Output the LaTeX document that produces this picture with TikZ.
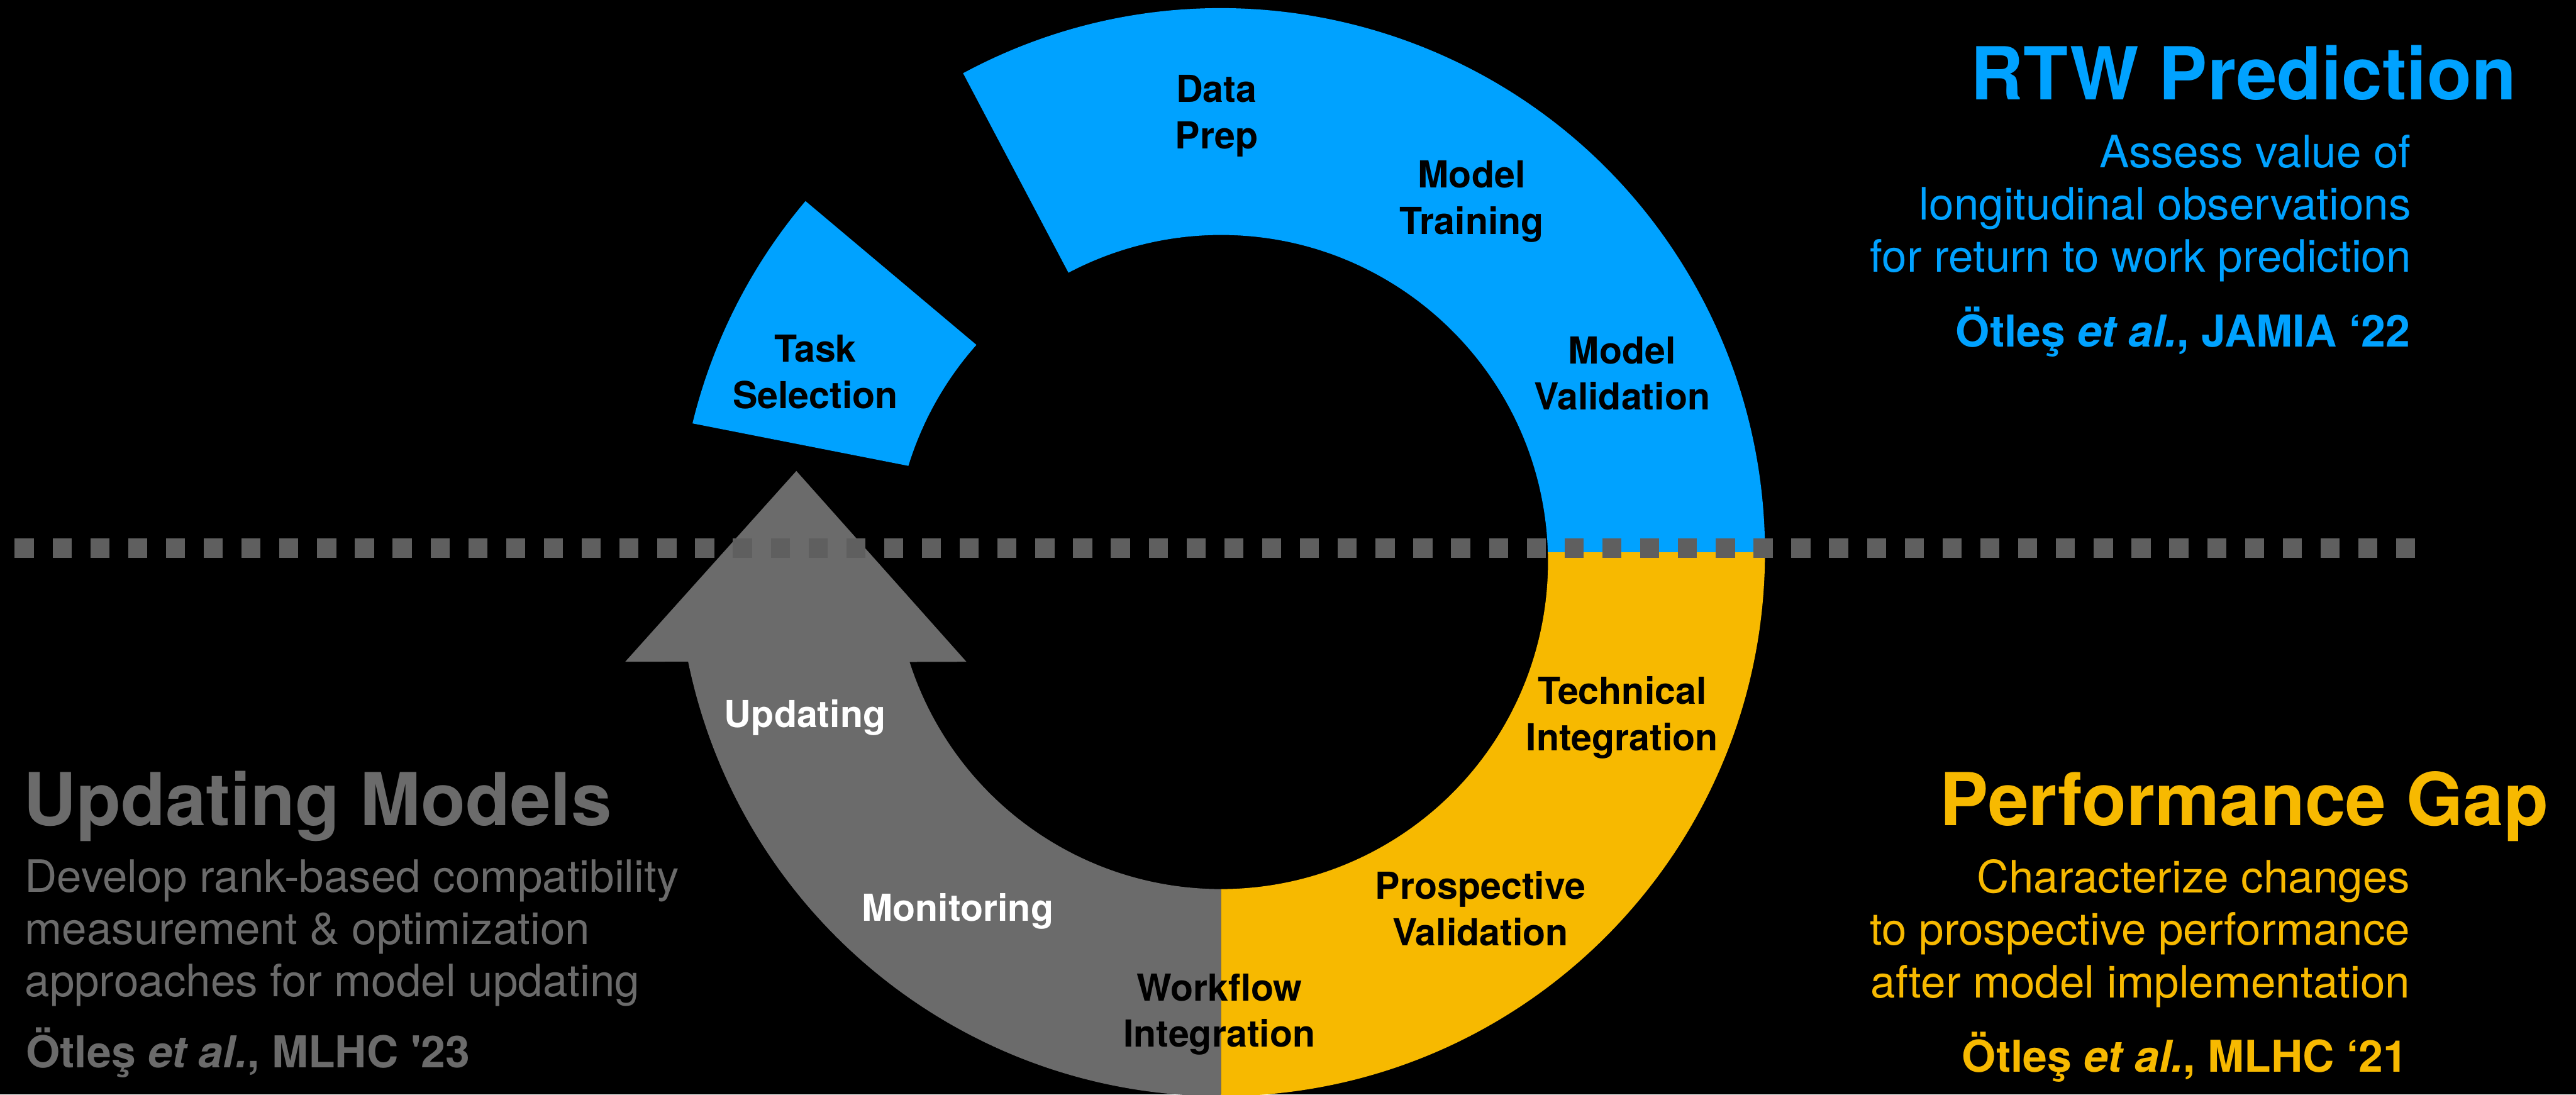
\documentclass[tikz,border=0pt]{standalone}
\usepackage{fontspec}
\setmainfont{TeX Gyre Heros}
\definecolor{rtwblue}{HTML}{00A2FF}
\definecolor{gapyellow}{HTML}{F7B900}
\definecolor{updgrey}{HTML}{6B6B6B}
\definecolor{dashgrey}{HTML}{5F5F5F}

\begin{document}
\begin{tikzpicture}[
  lbl/.style={align=center, font=\fontsize{19.4}{24.2}\selectfont\bfseries},
  head/.style={font=\fontsize{38.1}{45}\selectfont\bfseries},
  blurb/.style={font=\fontsize{23.3}{27.3}\selectfont},
  cite/.style={font=\fontsize{22.9}{27.3}\selectfont\bfseries}]
\tikzstyle{every node}+=[inner sep=0pt]
\clip (0,0) rectangle (47.26,-20.08);
\fill [black] (0,0) rectangle (47.26,-20.08);
\coordinate (oc) at (22.40,-10.13);
\coordinate (ic) at (22.40,-10.31);
\fill [rtwblue] ([shift={(118.3:9.98)}]oc) arc [start angle=118.3, end angle=0, radius=9.98] -- ([shift={(1.7:6)}]ic) arc [start angle=1.7, end angle=117.8, radius=6] -- cycle;
\fill [rtwblue] ([shift={(166.3:9.98)}]oc) arc [start angle=166.3, end angle=139.8, radius=9.98] -- ([shift={(138.4:6)}]ic) arc [start angle=138.4, end angle=162.9, radius=6] -- cycle;
\fill [gapyellow] ([shift={(0:9.98)}]oc) arc [start angle=0, end angle=-90, radius=9.98] -- ([shift={(-90:6)}]ic) arc [start angle=-90, end angle=1.7, radius=6] -- cycle;
\fill [updgrey] ([shift={(-90:9.98)}]oc) arc [start angle=-90, end angle=-168.4, radius=9.98] -- (11.47,-12.14) -- (14.61,-8.64) -- (17.73,-12.14) -- ([shift={(-162.2:6)}]ic) arc [start angle=-162.2, end angle=-90, radius=6] -- cycle;
\foreach \i in {0,...,63}
  \fill [dashgrey] ({0.27+0.6935*\i},-9.88) rectangle +(0.35,-0.35);
\node [lbl] (dataprep) at (22.32,-2.13) {Data\\Prep};
\node [lbl] (training) at (27.00,-3.70) {Model\\Training};
\node [lbl] (validation) at (29.76,-6.85) {Model\\Validation};
\node [lbl] (task) at (14.96,-6.82) {Task\\Selection};
\node [lbl] (techint) at (29.76,-13.16) {Technical\\Integration};
\node [lbl] (prospective) at (27.16,-16.67) {Prospective\\Validation};
\node [lbl] (workflow) at (22.37,-18.61) {Workflow\\Integration};
\node [lbl, text=white, anchor=base] (updating) at (14.77,-13.34) {Updating};
\node [lbl, text=white, anchor=base] (monitoring) at (17.57,-16.90) {Monitoring};
\node [head, text=rtwblue, anchor=base east] (rtw) at (46.17,-1.83) {RTW Prediction};
\node [blurb, text=rtwblue, align=right, anchor=base east] (rtwtext) at (44.24,-4.99) {Assess value of\\longitudinal observations\\for return to work prediction};
\node [cite, text=rtwblue, anchor=base east] (rtwcite) at (44.22,-6.36) {Ötleş \textit{et al.}, JAMIA ‘22};
\node [head, text=gapyellow, anchor=base east] (gap) at (46.76,-15.14) {Performance Gap};
\node [blurb, text=gapyellow, align=right, anchor=base east] (gaptext) at (44.22,-18.30) {Characterize changes\\to prospective performance\\after model implementation};
\node [cite, text=gapyellow, anchor=base east] (gapcite) at (44.18,-19.67) {Ötleş \textit{et al.}, MLHC ‘21};
\node [head, text=updgrey, anchor=base west] (upd) at (0.42,-15.14) {Updating Models};
\node [blurb, text=updgrey, align=left, anchor=base west] (updtext) at (0.45,-18.28) {Develop rank-based compatibility\\measurement \& optimization\\approaches for model updating};
\node [cite, text=updgrey, anchor=base west] (updcite) at (0.47,-19.58) {Ötleş \textit{et al.}, MLHC \textquotesingle23};
\end{tikzpicture}
\end{document}
